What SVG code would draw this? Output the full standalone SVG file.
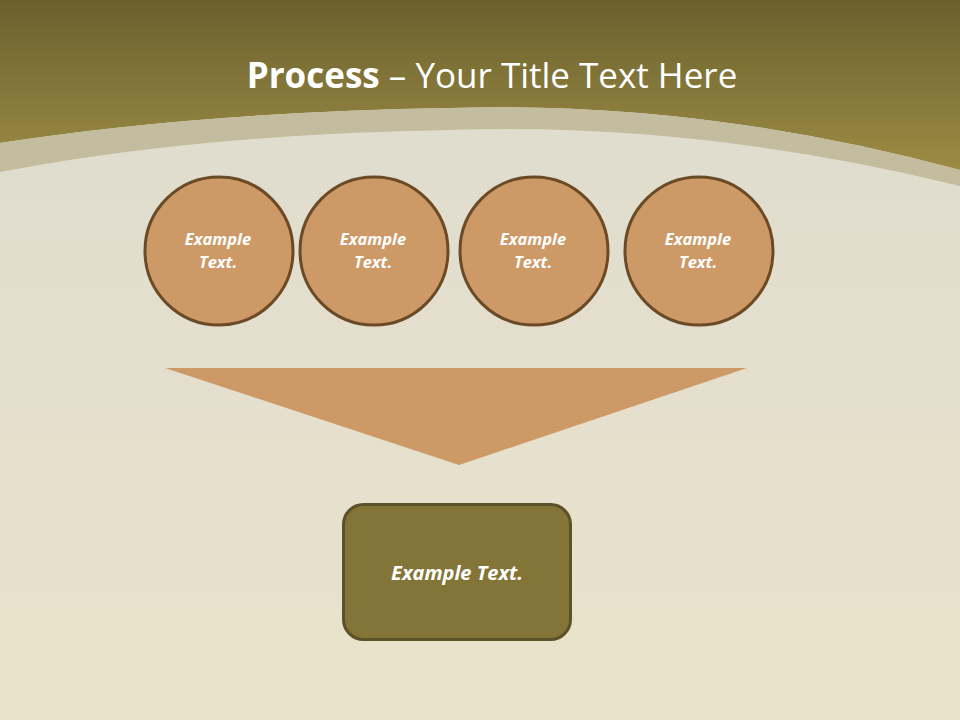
<svg xmlns="http://www.w3.org/2000/svg" width="960" height="720" viewBox="0 0 960 720">
<defs>
<linearGradient id="top" x1="0" y1="0" x2="0" y2="1">
<stop offset="0" stop-color="#6B612F"/>
<stop offset="1" stop-color="#9B8B43"/>
</linearGradient>
<linearGradient id="paper" x1="0" y1="0" x2="0" y2="1">
<stop offset="0" stop-color="#DEDBCF"/>
<stop offset="1" stop-color="#EAE3CB"/>
</linearGradient>
<style>
.circ{fill:#CD9966;stroke:#6B4A26;stroke-width:3}
.ct{font-family:"Open Sans","Noto Sans",sans-serif;font-weight:bold;font-style:italic;fill:#FFFFFF;font-size:16.5px;text-anchor:middle}
</style>
</defs>
<rect x="0" y="0" width="960" height="720" fill="url(#paper)"/>
<path d="M0,0 H960 V170 Q700,100 450,108 Q200,112 0,143 Z" fill="url(#top)"/>
<path d="M0,143 Q200,112 450,108 Q700,100 960,170 V186 Q700,122 450,130 Q200,134 0,172 Z" fill="#C4BC9E"/>
<text x="492" y="88" font-family="Open Sans, Noto Sans, sans-serif" font-size="35" fill="#FFFFFF" text-anchor="middle"><tspan font-weight="bold">Process</tspan> – Your Title Text Here</text>
<g id="c1"><circle class="circ" cx="219" cy="251" r="74"/><text class="ct" x="218" y="245">Example</text><text class="ct" x="218" y="268">Text.</text></g>
<g id="c2"><circle class="circ" cx="374" cy="251" r="74"/><text class="ct" x="373" y="245">Example</text><text class="ct" x="373" y="268">Text.</text></g>
<g id="c3"><circle class="circ" cx="534" cy="251" r="74"/><text class="ct" x="533" y="245">Example</text><text class="ct" x="533" y="268">Text.</text></g>
<g id="c4"><circle class="circ" cx="699" cy="251" r="74"/><text class="ct" x="698" y="245">Example</text><text class="ct" x="698" y="268">Text.</text></g>
<g id="connectors"><polygon points="165,368 747,368 459,465" fill="#CD9966"/></g>
<g id="result"><rect x="343.5" y="504.5" width="227" height="135" rx="20" fill="#837537" stroke="#5C5128" stroke-width="3"/><text x="457" y="580" font-family="Open Sans, Noto Sans, sans-serif" font-weight="bold" font-style="italic" font-size="20" fill="#FFFFFF" text-anchor="middle">Example Text.</text></g>
</svg>
